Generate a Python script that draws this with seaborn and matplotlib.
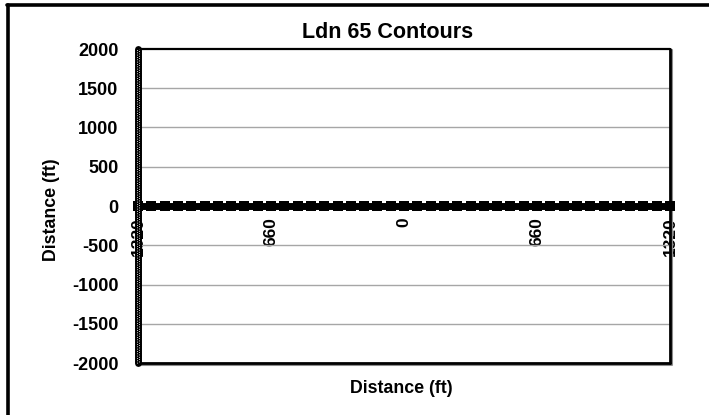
import matplotlib
matplotlib.use("Agg")
import matplotlib.pyplot as plt
from matplotlib.lines import Line2D
from matplotlib.transforms import offset_copy
import pandas as pd
import seaborn as sns

# Chart text
title = "Ldn 65 Contours"
x_label = "Distance (ft)"
y_label = "Distance (ft)"

# Contour trace along the centreline (ft)
contour_x = [-1320, -1254, -1188, -1122, -1056, -990, -924, -858, -792, -726,
             -660, -594, -528, -462, -396, -330, -264, -198, -132, -66,
             0, 66, 132, 198, 264, 330, 396, 462, 528, 594,
             660, 726, 792, 858, 924, 990, 1056, 1122, 1188, 1254, 1320]
contour_y = [0, 0, 0, 0, 0, 0, 0, 0, 0, 0,
             0, 0, 0, 0, 0, 0, 0, 0, 0, 0,
             0, 0, 0, 0, 0, 0, 0, 0, 0, 0,
             0, 0, 0, 0, 0, 0, 0, 0, 0, 0, 0]

# Vertical edge trace at the left end of the range
edge_x = [-1320, -1320]
edge_y = [-2000, 2000]

# Axis ticks
x_ticks = [-1320, -660, 0, 660, 1320]
x_tick_labels = ["1320", "660", "0", "660", "1320"]
y_ticks = [-2000, -1500, -1000, -500, 0, 500, 1000, 1500, 2000]
y_tick_labels = ["-2000", "-1500", "-1000", "-500", "0", "500", "1000", "1500", "2000"]

sns.set_theme(style="white")
plt.rcParams["font.family"] = ["Liberation Sans", "DejaVu Sans"]
plt.rcParams["font.weight"] = "bold"
plt.rcParams["text.color"] = "black"
plt.rcParams["xtick.color"] = "black"
plt.rcParams["ytick.color"] = "black"
plt.rcParams["xtick.labelcolor"] = "black"
plt.rcParams["ytick.labelcolor"] = "black"

fig = plt.figure(figsize=(7.09, 4.15), dpi=100)
fig.patch.set_facecolor("white")
ax = fig.add_axes([138 / 709, 1 - 363 / 415, (670 - 138) / 709, (363 - 49) / 415])
ax.set_facecolor("white")

ax.set_xlim(-1320, 1320)
ax.set_ylim(-2000, 2000)

# Horizontal gridlines
for yv in y_ticks[1:-1]:
    ax.axhline(yv, color="#a6a6a6", lw=1.0, zorder=1)

contour_df = pd.DataFrame({"x": contour_x, "y": contour_y})
edge_df = pd.DataFrame({"x": edge_x, "y": edge_y})

# Centreline contour: heavy line with square markers
sns.lineplot(data=contour_df, x="x", y="y", ax=ax, color="black", lw=5.0,
             marker="s", markersize=6.5, markeredgewidth=0, sort=False,
             estimator=None, zorder=4, clip_on=False)

# Left edge: heavy patterned line (black band with staggered white dots)
sns.lineplot(data=edge_df, x="x", y="y", ax=ax, color="black", lw=5.0,
             sort=False, estimator=None, zorder=5, clip_on=False)
for dx, phase in [(-1.4, 0.0), (1.4, 1.2)]:
    tr = offset_copy(ax.transData, fig=fig, x=dx, y=0, units="dots")
    ax.plot(edge_x, edge_y, color="white", lw=0.7,
            linestyle=(phase, (0.8, 1.6)), zorder=6, clip_on=False,
            dash_capstyle="butt", transform=tr)

# Plot area border (top, right, bottom) with a soft shadow
shadow = offset_copy(ax.transData, fig=fig, x=1.5, y=-1.5, units="dots")
ax.plot([-1320, 1320, 1320], [-2000, -2000, 2000], color="#8c8c8c", lw=1.5,
        zorder=2, clip_on=False, transform=shadow)
ax.plot([-1320, 1320], [2000, 2000], color="black", lw=1.6, zorder=3, clip_on=False)
ax.plot([-1320, 1320], [-2000, -2000], color="black", lw=2.0, zorder=3, clip_on=False)
ax.plot([1320, 1320], [-2000, 2000], color="black", lw=2.0, zorder=3, clip_on=False)

# Spines: the x axis crosses at y = 0
for side in ["top", "right", "left"]:
    ax.spines[side].set_visible(False)
ax.spines["bottom"].set_position(("data", 0))
ax.spines["bottom"].set_visible(False)

ax.set_xticks(x_ticks)
ax.set_xticklabels(x_tick_labels, rotation=90, fontsize=12.5, fontweight="bold",
                   va="top", ha="center", color="black")
ax.tick_params(axis="x", length=0, pad=8)
ax.set_yticks(y_ticks)
ax.set_yticklabels(y_tick_labels, fontsize=13, fontweight="bold", color="black")
ax.tick_params(axis="y", length=0, pad=14)
for lbl in ax.get_xticklabels():
    lbl.set_zorder(7)

ax.set_xlabel("")
ax.set_ylabel("")
ax.grid(False)

fig.text(388 / 709, 1 - 33 / 415, title, ha="center", va="center",
         fontsize=15.5, fontweight="bold", color="black")
fig.text(401 / 709, 1 - 388 / 415, x_label, ha="center", va="center",
         fontsize=12.8, fontweight="bold", color="black")
fig.text(51 / 709, 1 - 210 / 415, y_label, ha="center", va="center",
         rotation=90, fontsize=12.8, fontweight="bold", color="black")

# Outer chart frame (top and left edges)
fig.add_artist(Line2D([7 / 709, 1.0], [1 - 5.5 / 415, 1 - 5.5 / 415],
                      color="black", lw=2.6, transform=fig.transFigure))
fig.add_artist(Line2D([8 / 709, 8 / 709], [0.0, 1 - 5.5 / 415],
                      color="black", lw=2.6, transform=fig.transFigure))

fig.savefig("out.png", dpi=100, facecolor="white")
